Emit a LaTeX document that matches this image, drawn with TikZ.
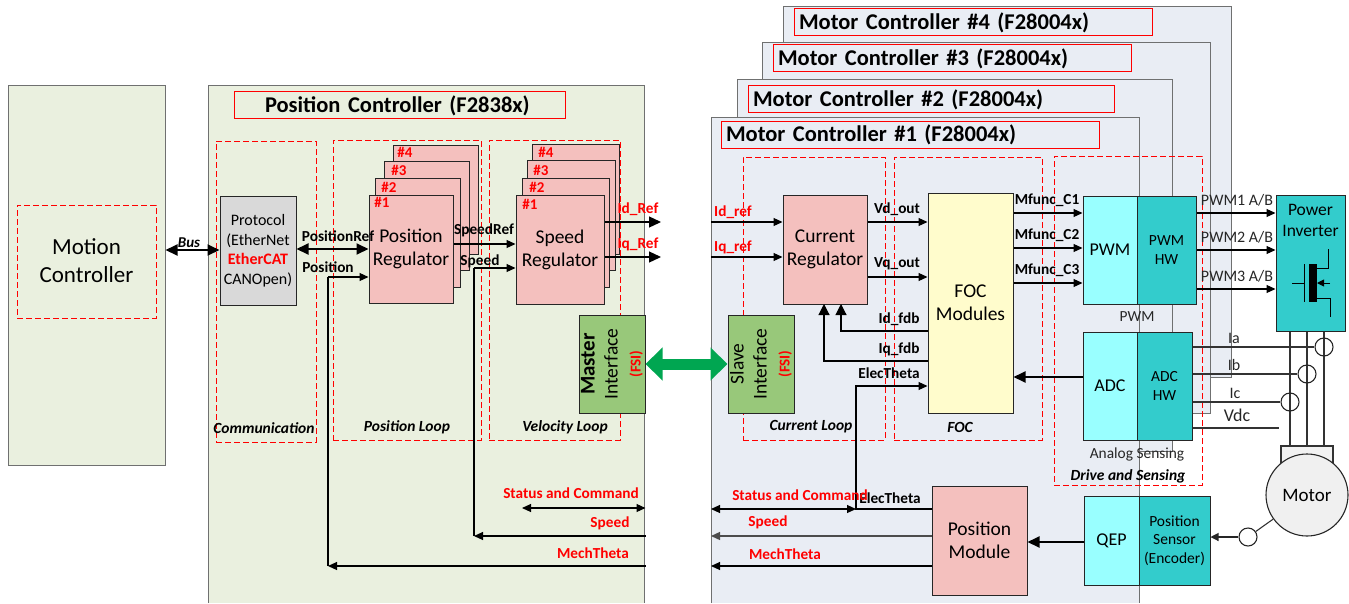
\documentclass[tikz,border=0pt]{standalone}
\usepackage{fontspec}
\setmainfont{Carlito}
\usetikzlibrary{arrows.meta}
\definecolor{panelgreen}{HTML}{EAF0DF}
\definecolor{panelblue}{HTML}{E9EDF4}
\definecolor{regpink}{HTML}{F4C0BE}
\definecolor{ifgreen}{HTML}{98C87A}
\definecolor{fsigreen}{HTML}{00A651}
\definecolor{lightcyan}{HTML}{99FFFF}
\definecolor{darkcyan}{HTML}{33CCCC}
\definecolor{panelgray}{HTML}{6F7070}
\tikzset{
	block/.style={draw=black!85, line width=1pt, inner sep=0pt, align=center, font=\fontsize{19.5}{23}\selectfont},
	regblock/.style={block, fill=regpink, execute at begin node={\rule{0pt}{18pt}}},
	smallblock/.style={block, font=\fontsize{15.5}{18.5}\selectfont},
	titlebox/.style={draw=red, line width=0.8pt, minimum height=27pt, inner xsep=5pt, inner ysep=0pt, text height=18pt, text depth=4pt, font=\bfseries\fontsize{22.5}{24}\selectfont},
	loopbox/.style={draw=red, line width=1pt, dash pattern=on 6pt off 3pt, inner sep=0pt},
	panelline/.style={draw=panelgray, line width=1pt},
	sig/.style={line width=1.1pt, -{Triangle[length=9pt,width=8pt]}},
	sigtwo/.style={line width=1.1pt, {Triangle[length=9pt,width=8pt]}-{Triangle[length=9pt,width=8pt]}},
	sigbig/.style={line width=1.9pt, -{Triangle[length=12pt,width=11pt]}},
	sigbigtwo/.style={line width=1.9pt, {Triangle[length=12pt,width=11pt]}-{Triangle[length=12pt,width=11pt]}},
	wire/.style={draw=black!80, line width=1.1pt},
	tag/.style={inner sep=0pt, font=\bfseries\fontsize{15.3}{17}\selectfont},
	redtag/.style={tag, text=red},
	numtag/.style={inner sep=0pt, text=red, font=\bfseries\fontsize{15}{16}\selectfont},
	looptag/.style={inner sep=0pt, font=\bfseries\itshape\fontsize{15.5}{17}\selectfont},
	plaintag/.style={inner sep=0pt, text=black!85, font=\fontsize{16}{17}\selectfont},
	sensor/.style={draw=black!85, line width=1.1pt, circle, minimum size=18pt, inner sep=0pt}
}
\begin{document}
\begin{tikzpicture}[x=1pt,y=-1pt]
	\useasboundingbox (0,0) rectangle (1349,603);
	% Define the outer panels
	\node[draw=panelgray, line width=1pt, fill=panelgreen, minimum width=157, minimum height=380, inner sep=0pt] (motion) at (86.5,275) {};
	\fill[panelgreen] (208,85) rectangle (644,603);
	\draw[panelline] (208,603) -- (208,85) -- (644,85) -- (644,603);
	\node[draw=panelgray, line width=1pt, fill=panelblue, minimum width=448, minimum height=371, inner sep=0pt] (mcfour) at (1007,191.5) {};
	\node[draw=panelgray, line width=1pt, fill=panelblue, minimum width=448, minimum height=371, inner sep=0pt] (mcthree) at (986,227.5) {};
	\node[draw=panelgray, line width=1pt, fill=panelblue, minimum width=435, minimum height=372, inner sep=0pt] (mctwo) at (954.5,265) {};
	\fill[panelblue] (711,117) rectangle (1139,603);
	\draw[panelline] (711,603) -- (711,117) -- (1139,117) -- (1139,603);
	% Add the panel titles
	\node[titlebox, text width=348pt, align=left] (titlefour) at (973,22) {Motor Controller \#4 (F28004x)};
	\node[titlebox, text width=348pt, align=left] (titlethree) at (952,58) {Motor Controller \#3 (F28004x)};
	\node[titlebox, text width=356pt, align=left] (titletwo) at (931,99) {Motor Controller \#2 (F28004x)};
	\node[titlebox, text width=368pt, align=left] (titleone) at (910,134.5) {Motor Controller \#1 (F28004x)};
	\node[titlebox, text width=321pt, align=left] (titlepos) at (399.5,105) {\hspace*{26pt}Position Controller (F2838x)};
	% Add the dashed groups
	\node[loopbox, minimum width=139, minimum height=113] (motionloop) at (86.5,261.5) {};
	\node[loopbox, minimum width=100, minimum height=301] (commloop) at (266,291.5) {};
	\node[loopbox, minimum width=148, minimum height=300] (posloop) at (407,290) {};
	\node[loopbox, minimum width=131, minimum height=300] (velloop) at (554.5,290) {};
	\node[loopbox, minimum width=142, minimum height=283] (curloop) at (814,298.5) {};
	\node[loopbox, minimum width=148, minimum height=283] (focloop) at (968,298.5) {};
	\node[loopbox, minimum width=148, minimum height=329] (driveloop) at (1128,320.5) {};
	\node[looptag] (commtag) at (264,428) {Communication};
	\node[looptag] (postag) at (407,427) {Position Loop};
	\node[looptag] (veltag) at (565,427) {Velocity Loop};
	\node[looptag] (curtag) at (811,427) {Current Loop};
	\node[looptag] (foctag) at (960,427) {FOC};
	\node[looptag] (drivetag) at (1128,476) {Drive and Sensing};
	% Draw the position controller blocks
	\node[inner sep=0pt, align=center, font=\fontsize{23}{28}\selectfont] (motiontxt) at (86.5,261) {Motion\\Controller};
	\node[block, fill=black!15, minimum width=76, minimum height=109, font=\fontsize{16}{19.5}\selectfont] (protocol) at (258,250.5) {Protocol\\(EtherNet\\{\color{red}\bfseries EtherCAT}\\CANOpen)};
	\node[regblock, minimum width=85, minimum height=109] (posfour) at (435.5,199.5) {};
	\node[regblock, minimum width=85, minimum height=109] (posthree) at (426.5,215.5) {};
	\node[regblock, minimum width=85, minimum height=109] (postwo) at (417.5,232.5) {};
	\node[regblock, minimum width=84, minimum height=108] (posone) at (411,249) {Position\\Regulator};
	\node[regblock, minimum width=87, minimum height=110] (spdfour) at (575.5,199) {};
	\node[regblock, minimum width=88, minimum height=110] (spdthree) at (571,215) {};
	\node[regblock, minimum width=87, minimum height=109] (spdtwo) at (565.5,232.5) {};
	\node[regblock, minimum width=88, minimum height=109] (spdone) at (560,249.5) {Speed\\Regulator};
	\node[numtag] (posnfour) at (405,152) {\#4};
	\node[numtag] (posnthree) at (399,170) {\#3};
	\node[numtag] (posntwo) at (389,187) {\#2};
	\node[numtag] (posnone) at (382,202) {\#1};
	\node[numtag] (spdnfour) at (546,152) {\#4};
	\node[numtag] (spdnthree) at (541,170) {\#3};
	\node[numtag] (spdntwo) at (537,187) {\#2};
	\node[numtag] (spdnone) at (530,204) {\#1};
	\node[block, fill=ifgreen, minimum width=98, minimum height=66, rotate=90] (master) at (612,364) {{\bfseries\fontsize{21}{23}\selectfont Master}\\Interface\\{\color{red}\bfseries\fontsize{15}{16}\selectfont (FSI)}};
	\node[block, fill=ifgreen, minimum width=98, minimum height=66, rotate=90] (slave) at (761,364) {Slave\\Interface\\{\color{red}\bfseries\fontsize{15}{16}\selectfont (FSI)}};
	% Draw the motor controller blocks
	\node[regblock, minimum width=84, minimum height=109] (curreg) at (825,249.5) {Current\\Regulator};
	\node[block, fill=yellow!20, minimum width=85, minimum height=220] (foc) at (970.5,303) {FOC\\Modules};
	\node[regblock, minimum width=95, minimum height=109] (posmod) at (979.5,540.5) {Position\\Module};
	\node[block, fill=lightcyan, font=\fontsize{18}{22}\selectfont, minimum width=54, minimum height=108] (pwm) at (1110,250) {PWM};
	\node[smallblock, fill=darkcyan, minimum width=59, minimum height=108] (pwmhw) at (1166.5,250) {PWM\\HW};
	\node[block, fill=lightcyan, font=\fontsize{18}{22}\selectfont, minimum width=54, minimum height=108] (adc) at (1110,386) {ADC};
	\node[smallblock, fill=darkcyan, minimum width=55, minimum height=108] (adchw) at (1164.5,386) {ADC\\HW};
	\node[block, fill=lightcyan, font=\fontsize{18}{22}\selectfont, minimum width=55, minimum height=89] (qep) at (1111.5,540.5) {QEP};
	\node[smallblock, fill=darkcyan, minimum width=71, minimum height=89] (encoder) at (1174.5,540.5) {Position\\Sensor\\(Encoder)};
	\node[block, fill=darkcyan, minimum width=69, minimum height=136, anchor=north] (inverter) at (1310.5,195) {};
	\node[inner sep=0pt, align=center, font=\fontsize{17.5}{21}\selectfont] (invtxt) at (1310.5,220) {Power\\Inverter};
	% Add the signal wires to the motor
	\draw[wire, fill=black!5] (1281,470) -- (1281,446) -- (1333,446) -- (1333,470) -- cycle;
	\draw[wire] (inverter.south -| 1290,0) -- (1290,446);
	\draw[wire] (inverter.south -| 1307,0) -- (1307,446);
	\draw[wire] (inverter.south -| 1324,0) -- (1324,446);
	\node[draw=black!85, line width=1.1pt, fill=black!6, circle, minimum size=82pt, inner sep=0pt, font=\fontsize{19}{22}\selectfont] (motor) at (1307,495) {Motor};
	\node[sensor] (sensa) at (1324,347) {};
	\node[sensor] (sensb) at (1307,374) {};
	\node[sensor] (sensc) at (1290,402) {};
	\node[sensor] (sensq) at (1248,537) {};
	\coordinate (vdcend) at (1279,428);
	\draw[wire] (adchw.east |- sensa) -- (sensa);
	\draw[wire] (adchw.east |- sensb) -- (sensb);
	\draw[wire] (adchw.east |- sensc) -- (sensc);
	\draw[wire] (adchw.east |- vdcend) -- (vdcend);
	\draw[wire] (sensq) -- (motor);
	\draw[line width=1.1pt, draw=black!85, -{Triangle[length=8pt,width=8pt]}] (sensq) -- (encoder.east |- sensq);
	\node[plaintag] (iatag) at (1234,338) {Ia};
	\node[plaintag] (ibtag) at (1234,365) {Ib};
	\node[plaintag] (ictag) at (1235,393) {Ic};
	\node[plaintag, font=\fontsize{18}{19}\selectfont] (vdctag) at (1237,415) {Vdc};
	\node[plaintag, font=\fontsize{15.4}{17}\selectfont] (pwmtag) at (1137,317) {PWM};
	\node[plaintag, font=\fontsize{15.4}{17}\selectfont] (analogtag) at (1137,454) {Analog Sensing};
	% Draw the transistor symbol
	\coordinate (fetgate) at (1292,283);
	\coordinate (fetbar) at (1304,283);
	\coordinate (fetdrain) at (1328,249);
	\coordinate (fetsource) at (1330,317);
	\draw[line width=0.9pt] (fetgate) -- (fetbar) (1304,264) -- (1304,302);
	\fill (1309,264) rectangle (1317,302);
	\draw[line width=0.9pt] (1317,268) -| (fetdrain);
	\draw[line width=0.9pt] (1317,298) -| (fetsource);
	\draw[line width=0.9pt, -{Triangle[length=7pt,width=7pt]}] (1330,283) -- (1317,283);
	% Add the arrows of the position controller
	\draw[sigbigtwo] (motion.east |- 0,250) -- (protocol.west |- 0,250);
	\draw[sigbigtwo] (protocol.east |- 0,249) -- (posone.west |- 0,249);
	\coordinate (mechcorner) at (328,566);
	\coordinate (mechup) at (328,277);
	\coordinate (spdcorner) at (474,536);
	\coordinate (spdup) at (474,268);
	\draw[sig] (master.south |- mechcorner) -- (mechcorner);
	\draw[wire, draw=black] (mechcorner) -- (mechup);
	\draw[sig] (mechup) -- (posone.west |- mechup);
	\draw[sig] (posone.east |- 0,244) -- (spdone.west |- 0,244);
	\draw[sig] (master.south |- spdcorner) -- (spdcorner);
	\draw[wire, draw=black] (spdcorner) -- (spdup);
	\draw[sig] (spdup) -- (spdone.west |- spdup);
	\draw[sigbig, line width=1.3pt] (spdone.east |- 0,222) -- (661,222);
	\draw[sigbig, line width=1.3pt] (spdone.east |- 0,257) -- (661,257);
	\draw[sigtwo] (522,508) -- (master.south |- 0,508);
	\draw[draw=fsigreen, line width=11pt, {Triangle[length=17pt,width=32pt]}-{Triangle[length=17pt,width=32pt]}] (master.south) -- (slave.north);
	\node[tag, font=\bfseries\itshape\fontsize{15}{16}\selectfont] (bustag) at (189,243) {Bus};
	\node[tag] (posreftag) at (338,236) {PositionRef};
	\node[tag] (postxt) at (328,267) {Position};
	\node[tag] (spdreftag) at (484,230) {SpeedRef};
	\node[tag] (spdtxt) at (480,261) {Speed};
	\node[redtag] (idreftag) at (638,209) {Id\_Ref};
	\node[redtag] (iqreftag) at (638,244) {Iq\_Ref};
	\node[redtag] (statusl) at (571,493) {Status and Command};
	\node[redtag] (spdl) at (610,523) {Speed};
	\node[redtag] (mechl) at (593,553) {MechTheta};
	% Add the arrows of the motor controller
	\draw[sig] (711,222) -- (curreg.west |- 0,222);
	\draw[sig] (711,257) -- (curreg.west |- 0,257);
	\draw[sig] (curreg.east |- 0,222) -- (foc.west |- 0,222);
	\draw[sig] (curreg.east |- 0,277) -- (foc.west |- 0,277);
	\draw[sig, -{Triangle[length=11pt,width=11pt]}] (foc.west |- 0,331) -| (841,304);
	\draw[sig, -{Triangle[length=11pt,width=11pt]}] (foc.west |- 0,361) -| (824,304);
	\draw[sig] (posmod.west |- 0,509) -| (856,386) -- (foc.west |- 0,386);
	\draw[sigtwo] (711,509) -- (856,509);
	\draw[sig, draw=black!70, line width=1.4pt] (posmod.west |- 0,536) -- (711,536);
	\draw[sig] (posmod.west |- 0,566) -- (711,566);
	\draw[sig] (foc.east |- 0,213) -- (pwm.west |- 0,213);
	\draw[sig] (foc.east |- 0,248) -- (pwm.west |- 0,248);
	\draw[sig] (foc.east |- 0,283) -- (pwm.west |- 0,283);
	\draw[sigbig] (adc.west |- 0,377) -- (foc.east |- 0,377);
	\draw[sigbig] (qep.west |- 0,542) -- (posmod.east |- 0,542);
	\draw[sig] (pwmhw.east |- 0,213) -- (inverter.west |- 0,213);
	\draw[sig] (pwmhw.east |- 0,250) -- (inverter.west |- 0,250);
	\draw[sig] (pwmhw.east |- 0,289) -- (inverter.west |- 0,289);
	\node[redtag] (idin) at (733,212) {Id\_ref};
	\node[redtag] (iqin) at (733,247) {Iq\_ref};
	\node[tag] (vdtag) at (897,209) {Vd\_out};
	\node[tag] (vqtag) at (897,264) {Vq\_out};
	\node[tag] (idfdb) at (899,319) {Id\_fdb};
	\node[tag] (iqfdb) at (899,349) {Iq\_fdb};
	\node[tag] (thetafoc) at (889,373) {ElecTheta};
	\node[tag] (thetapos) at (890,498) {ElecTheta};
	\node[redtag] (statusr) at (800,495) {Status and Command};
	\node[redtag] (spdr) at (768,522) {Speed};
	\node[redtag] (mechr) at (785,554) {MechTheta};
	\node[tag] (mfuncone) at (1047,200) {Mfunc\_C1};
	\node[tag] (mfunctwo) at (1047,235) {Mfunc\_C2};
	\node[tag] (mfuncthree) at (1047,270) {Mfunc\_C3};
	\node[plaintag] (pwmone) at (1237,200) {PWM1 A/B};
	\node[plaintag] (pwmtwo) at (1237,237) {PWM2 A/B};
	\node[plaintag] (pwmthree) at (1237,276) {PWM3 A/B};
	\end{tikzpicture}
\end{document}
